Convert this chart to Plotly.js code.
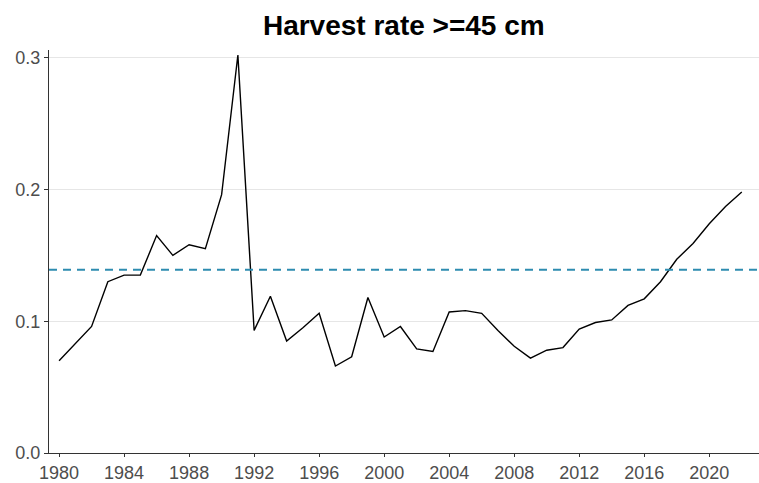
<!DOCTYPE html>
<html>
<head>
<meta charset="utf-8">
<script src="https://cdn.plot.ly/plotly-3.0.1.min.js"></script>
<style>html,body{margin:0;padding:0;background:#fff;}#chart{width:759px;height:483px;}</style>
</head>
<body>
<div id="chart"></div>
<script>
const years = [1980,1981,1982,1983,1984,1985,1986,1987,1988,1989,1990,1991,1992,1993,1994,1995,1996,1997,1998,1999,2000,2001,2002,2003,2004,2005,2006,2007,2008,2009,2010,2011,2012,2013,2014,2015,2016,2017,2018,2019,2020,2021,2022];
const harvestRate = [0.070,0.083,0.096,0.130,0.135,0.135,0.165,0.150,0.158,0.155,0.196,0.302,0.093,0.119,0.085,0.095,0.106,0.066,0.073,0.118,0.088,0.096,0.079,0.077,0.107,0.108,0.106,0.093,0.081,0.072,0.078,0.080,0.094,0.099,0.101,0.112,0.117,0.130,0.147,0.159,0.174,0.187,0.198];
const referenceLevel = 0.139;
const xTickVals = [1980,1984,1988,1992,1996,2000,2004,2008,2012,2016,2020];
const yTickVals = [0.0,0.1,0.2,0.3];
const yTickText = ["0.0","0.1","0.2","0.3"];

const traces = [{
  x: years, y: harvestRate, type: 'scatter', mode: 'lines',
  line: {color: '#000000', width: 1.4}, hoverinfo: 'skip', showlegend: false
}];

const layout = {
  width: 759, height: 483,
  margin: {l: 49, r: 0, t: 50, b: 30, pad: 0},
  paper_bgcolor: '#ffffff', plot_bgcolor: '#ffffff',
  font: {family: 'Liberation Sans, Arial, sans-serif', color: '#4d4d4d'},
  title: {text: '<b>Harvest rate >=45 cm</b>', font: {size: 28, color: '#000000', family: 'Liberation Sans, Arial, sans-serif'},
          x: 0.532, xanchor: 'center', y: 0.948, yanchor: 'middle'},
  xaxis: {range: [1979.38, 2023.06], tickvals: xTickVals, ticks: 'outside', ticklen: 3, tickcolor: '#333333',
          showline: true, linecolor: '#333333', linewidth: 1.2, showgrid: false, zeroline: false,
          tickfont: {size: 18, color: '#4d4d4d'}},
  yaxis: {range: [0, 0.3058], tickvals: yTickVals, ticktext: yTickText, ticks: 'outside', ticklen: 4, tickcolor: '#333333',
          showline: true, linecolor: '#333333', linewidth: 1.2, showgrid: true, gridcolor: '#e6e6e6', gridwidth: 1.3,
          zeroline: false, tickfont: {size: 18, color: '#4d4d4d'}},
  shapes: [{type: 'line', xref: 'paper', x0: 0, x1: 1, yref: 'y', y0: referenceLevel, y1: referenceLevel,
            line: {color: '#2E8CB0', width: 2, dash: '8px,6px'}, layer: 'above'}],
  showlegend: false
};

Plotly.newPlot('chart', traces, layout, {displayModeBar: false, staticPlot: true});
</script>
</body>
</html>
